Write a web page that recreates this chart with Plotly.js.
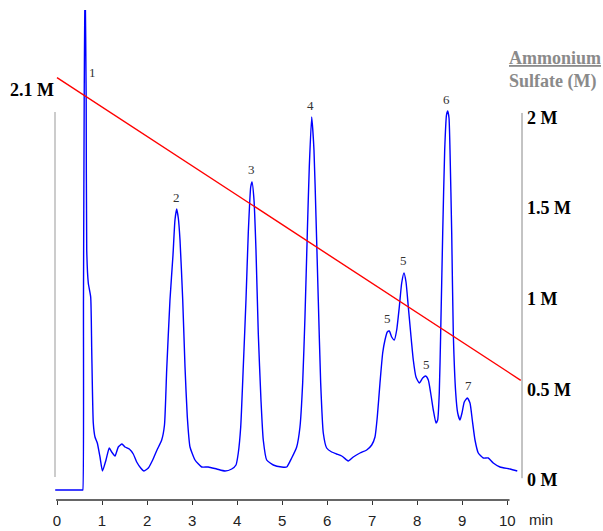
<!DOCTYPE html>
<html>
<head>
<meta charset="utf-8">
<script src="https://cdn.plot.ly/plotly-3.0.1.min.js"></script>
<style>html,body{margin:0;padding:0;background:#fff;}#chart{width:603px;height:531px;}</style>
</head>
<body>
<div id="chart"></div>
<script>
// Chromatogram (time in min, detector signal in arbitrary units)
var timeMin = [-0.04,0.566,0.573,0.588,0.604,0.622,0.648,0.660,0.695,0.748,0.771,0.806,0.844,0.895,0.955,1.01,1.088,1.161,1.215,1.288,1.361,1.443,1.510,1.606,1.694,1.770,1.859,1.932,2.028,2.125,2.221,2.325,2.387,2.436,2.509,2.576,2.620,2.658,2.694,2.732,2.792,2.843,2.894,2.954,3.065,3.213,3.360,3.547,3.731,3.880,3.975,4.026,4.080,4.137,4.197,4.248,4.302,4.331,4.375,4.419,4.470,4.530,4.581,4.657,4.804,4.990,5.101,5.212,5.323,5.396,5.456,5.507,5.559,5.603,5.656,5.707,5.752,5.803,5.856,5.914,5.989,6.100,6.211,6.323,6.433,6.469,6.580,6.729,6.878,6.989,7.062,7.113,7.173,7.233,7.284,7.335,7.380,7.433,7.491,7.544,7.602,7.655,7.706,7.751,7.802,7.855,7.913,7.973,8.046,8.121,8.188,8.246,8.299,8.357,8.417,8.454,8.490,8.521,8.566,8.610,8.650,8.677,8.706,8.728,8.766,8.801,8.855,8.899,8.950,8.994,9.045,9.112,9.172,9.223,9.283,9.356,9.467,9.578,9.689,9.838,10.060,10.222];
var signal = [0,0,0,190,390,520,390,240,207,193,140,67,53,47,33,19,30,42,38,34,43,46,43,41,36,28,22,19,22,30,40,50,65,120,190,235,270,281,272,250,190,123,73,43,30,23,23,21,19,21,25,37,63,123,190,257,303,308,290,240,157,90,50,30,25,23,23,32,43,63,107,173,257,323,373,340,273,190,107,57,42,38,36,34,30,29,33,37,40,45,53,73,107,137,150,158,159,153,150,160,183,207,217,208,183,157,130,113,107,112,114,110,97,80,67,70,97,157,257,340,375,379,372,340,257,157,97,77,70,77,88,92,87,70,50,37,32,32,27,23,21,19];

// Ammonium sulfate gradient (M)
var gradTime = [0, 10.3];
var gradConc = [2.22, 0.55];

// Peak labels
var peakLabels = ["1","2","3","4","5","5","5","6","7"];
var peakTimes  = [0.784,2.643,4.324,5.634,7.690,7.344,8.195,8.654,9.134];
var peakLabelY = [418,293,321,385,230,172,126,391,105];

// Axis ticks
var xTicks = [0,1,2,3,4,5,6,7,8,9,10];
var concTicks = [0,0.5,1,1.5,2];
var concTickText = ["0 M","0.5 M","1 M","1.5 M","2 M"];

var traces = [
  {x: timeMin, y: signal, type:'scatter', mode:'lines', xaxis:'x', yaxis:'y',
   line:{color:'#0000ff', width:1.4, shape:'spline', smoothing:0.5}, hoverinfo:'skip'},
  {x: gradTime, y: gradConc, type:'scatter', mode:'lines', xaxis:'x', yaxis:'y2',
   line:{color:'#ff0000', width:1.4}, hoverinfo:'skip'}
];

var serif = 'Liberation Serif, Times New Roman, serif';
var sans = 'Liberation Sans, Arial, sans-serif';

var annotations = peakLabels.map(function(t,i){
  return {x: peakTimes[i], y: peakLabelY[i], xref:'x', yref:'y', text:t, showarrow:false,
          xanchor:'center', yanchor:'middle',
          font:{family:serif, size:13, color:'#333'}};
});
annotations.push({x:-0.0503, y:0.8367, xref:'paper', yref:'paper', text:'<b>2.1 M</b>', showarrow:false,
  xanchor:'center', yanchor:'middle', font:{family:serif, size:18, color:'#000'}});
annotations.push({x:0.9679, y:0.8775, xref:'paper', yref:'paper', text:'<b><u>Ammonium</u></b><br><b>Sulfate (M)</b>', showarrow:false,
  xanchor:'left', yanchor:'middle', align:'left',
  font:{family:serif, size:18, color:'#8a8a8a'}});
annotations.push({x:1.040, y:-0.0408, xref:'paper', yref:'paper', text:'min', showarrow:false,
  xanchor:'center', yanchor:'middle', font:{family:sans, size:15, color:'#222'}});

var layout = {
  width:603, height:531,
  margin:{l:55, r:81, t:10, b:31, pad:0},
  paper_bgcolor:'#fff', plot_bgcolor:'#fff',
  showlegend:false,
  xaxis:{range:[-0.0444, 10.327], tickvals:xTicks, ticks:'outside', ticklen:4, tickcolor:'#333',
         showline:false, showgrid:false, zeroline:false, ticklabelstandoff:3,
         tickfont:{family:sans, size:15, color:'#222'}},
  yaxis:{range:[-10, 480], visible:false, showgrid:false, zeroline:false},
  yaxis2:{range:[-0.1103, 2.5931], overlaying:'y', side:'right', anchor:'x',
          tickvals:concTicks, ticktext:concTickText, ticks:'', showline:false, showgrid:false, zeroline:false,
          ticklabelstandoff:4,
          tickfont:{family:serif, size:18, color:'#000', weight:'bold'}},
  shapes:[
    {type:'line', xref:'x', yref:'paper', x0:-0.02, x1:10.05, y0:0, y1:0, line:{color:'#333', width:1.3}},
    {type:'line', xref:'paper', yref:'y', x0:0, x1:0, y0:13, y1:378, line:{color:'#999', width:1}},
    {type:'line', xref:'paper', yref:'y2', x0:1, x1:1, y0:0.01, y1:2.025, line:{color:'#888', width:1}}
  ],
  annotations: annotations
};

Plotly.newPlot('chart', traces, layout, {displayModeBar:false, staticPlot:true});
</script>
</body>
</html>
